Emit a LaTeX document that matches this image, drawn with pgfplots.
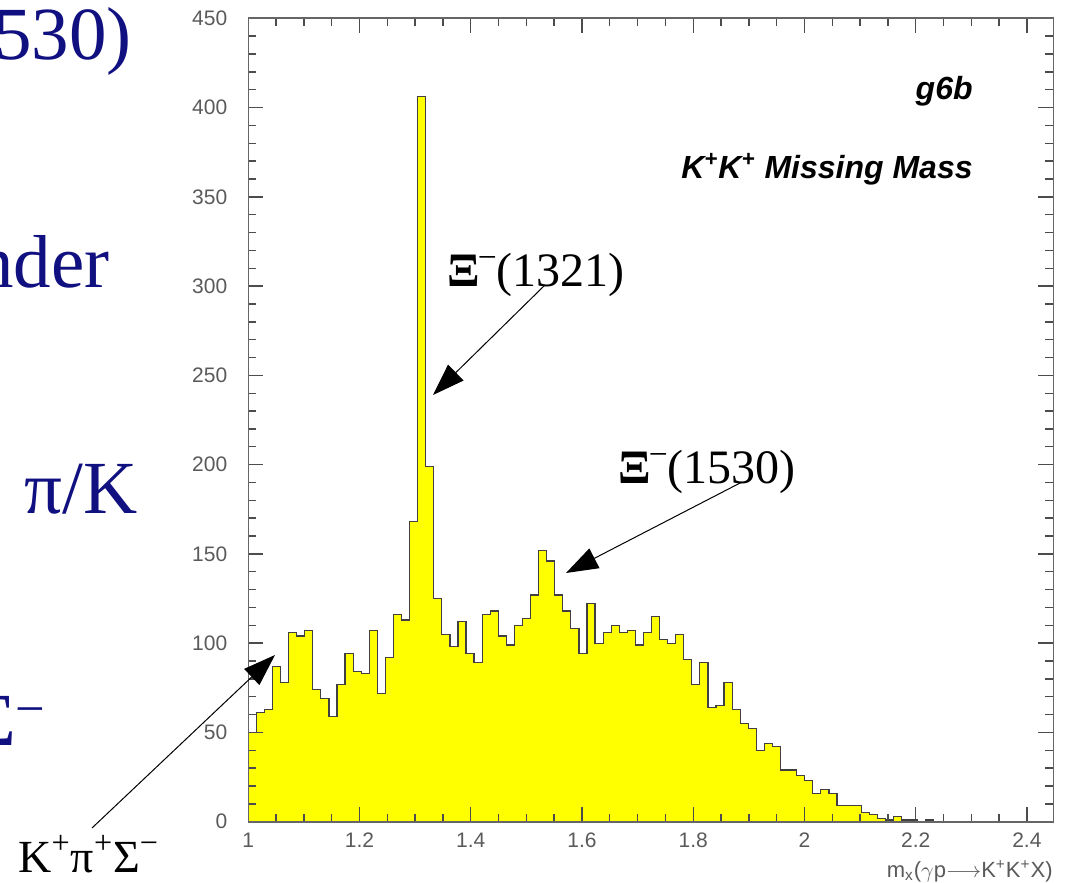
\documentclass[border=0pt]{standalone}
\usepackage{fontspec}
\setmainfont{Liberation Serif}
\newfontfamily\hv{Liberation Sans}
\usepackage{pgfplots}
\pgfplotsset{compat=1.18}
\usetikzlibrary{arrows.meta}
\definecolor{histyellow}{RGB}{255,255,0}
\definecolor{navy}{RGB}{16,16,128}
\definecolor{ticklab}{RGB}{90,90,90}
\begin{document}
\begin{tikzpicture}
\path[use as bounding box] (0,0) rectangle (534pt,441pt);
\begin{axis}[
  at={(124.15pt,30.15pt)}, anchor=south west,
  scale only axis, width=402.5pt, height=401.7pt,
  xmin=1, xmax=2.4475, ymin=0, ymax=450,
  xtick={1,1.2,1.4,1.6,1.8,2,2.2,2.4},
  xticklabels={1,1.2,1.4,1.6,1.8,2,2.2,2.4},
  ytick={0,50,100,150,200,250,300,350,400,450},
  minor x tick num=3, minor y tick num=4,
  tick align=inside, xtick pos=both, ytick pos=both,
  major tick length=7.5pt, minor tick length=4pt,
  axis line style={black!60, line width=0.8pt},
  tick style={black!70, line width=0.7pt},
  axis on top,
  /pgf/number format/assume math mode=true,
  ticklabel style={font=\hv\fontsize{10.5}{10.5}\selectfont, text=ticklab},
  yticklabel style={xshift=-7pt},
  xticklabel style={yshift=-2pt},
]
\addplot[const plot, fill=histyellow, draw=black!75, line width=0.6pt] table[x=x, y=y] {
x y
1.0000 50
1.0145 61
1.0290 63
1.0435 87
1.0580 78
1.0725 106
1.0870 104
1.1015 107
1.1160 74
1.1305 69
1.1450 59
1.1595 77
1.1740 94
1.1885 84
1.2030 83
1.2175 107
1.2320 72
1.2465 92
1.2610 116
1.2755 113
1.2900 168
1.3045 406
1.3190 199
1.3335 125
1.3480 105
1.3625 98
1.3770 112
1.3915 94
1.4060 89
1.4205 116
1.4350 118
1.4495 104
1.4640 99
1.4785 110
1.4930 114
1.5075 127
1.5220 152
1.5365 146
1.5510 127
1.5655 118
1.5800 108
1.5945 94
1.6090 122
1.6235 100
1.6380 106
1.6525 110
1.6670 106
1.6815 107
1.6960 99
1.7105 106
1.7250 115
1.7395 102
1.7540 100
1.7685 105
1.7830 91
1.7975 77
1.8120 89
1.8265 64
1.8410 65
1.8555 78
1.8700 63
1.8845 55
1.8990 52
1.9135 40
1.9280 44
1.9425 42
1.9570 29
1.9715 29
1.9860 26
2.0005 23
2.0150 16
2.0295 18
2.0440 16
2.0585 9
2.0730 9
2.0875 9
2.1020 5
2.1165 4
2.1310 2
2.1455 1
2.1600 3
2.1745 1
2.1890 1
2.2035 0
2.2180 1
2.2325 0
} \closedcycle;
\end{axis}
\begin{scope}[x=0.5pt, y=-0.5pt, shift={(0pt,441pt)}]
  % right-hand labels
  \node[anchor=base east, inner sep=0pt, font=\hv\bfseries\itshape\fontsize{16}{16}\selectfont] at (973,100) {g6b};
  \node[anchor=base east, inner sep=0pt, font=\hv\bfseries\itshape\fontsize{16}{16}\selectfont] at (973,179) {K\textsuperscript{+}K\textsuperscript{+} Missing Mass};
  % x axis title
  \node[anchor=base east, inner sep=0pt, text=ticklab, font=\hv\fontsize{11}{11}\selectfont] at (1053,877) {m\textsubscript{x}($\gamma$p$\longrightarrow$K\textsuperscript{+}K\textsuperscript{+}X)};
  % annotations
  \node[anchor=base west, inner sep=0pt, font=\fontsize{24}{24}\selectfont] at (447,287) {\textbf{Ξ}\kern-1pt\textsuperscript{−}\kern-0.5pt(1321)};
  \node[anchor=base west, inner sep=0pt, font=\fontsize{24}{24}\selectfont] at (618,484) {\textbf{Ξ}\kern-1pt\textsuperscript{−}\kern-0.5pt(1530)};
  \node[anchor=base west, inner sep=0pt, font=\fontsize{23}{23}\selectfont] at (18,872) {K\textsuperscript{+}π\textsuperscript{+}Σ\textsuperscript{−}};
  \draw[line width=0.5pt, -{Triangle[length=16pt, width=11pt]}] (545,285) -- (433,395);
  \draw[line width=0.5pt, -{Triangle[length=16pt, width=11pt]}] (742,482) -- (566,573);
  \draw[line width=0.5pt, -{Triangle[length=16pt, width=11pt]}] (92,828) -- (275,655);
  % slide text on the left
  \begin{scope}[every node/.style={anchor=base east, inner sep=0pt, text=navy, font=\fontsize{37.5}{37.5}\selectfont}]
    \node at (132,60) {(1530)};
    \node at (110,288) {under};
    \node at (138,514) {π/K};
    \node at (47,745) {Σ\textsuperscript{−}};
  \end{scope}
\end{scope}
\end{tikzpicture}
\end{document}
